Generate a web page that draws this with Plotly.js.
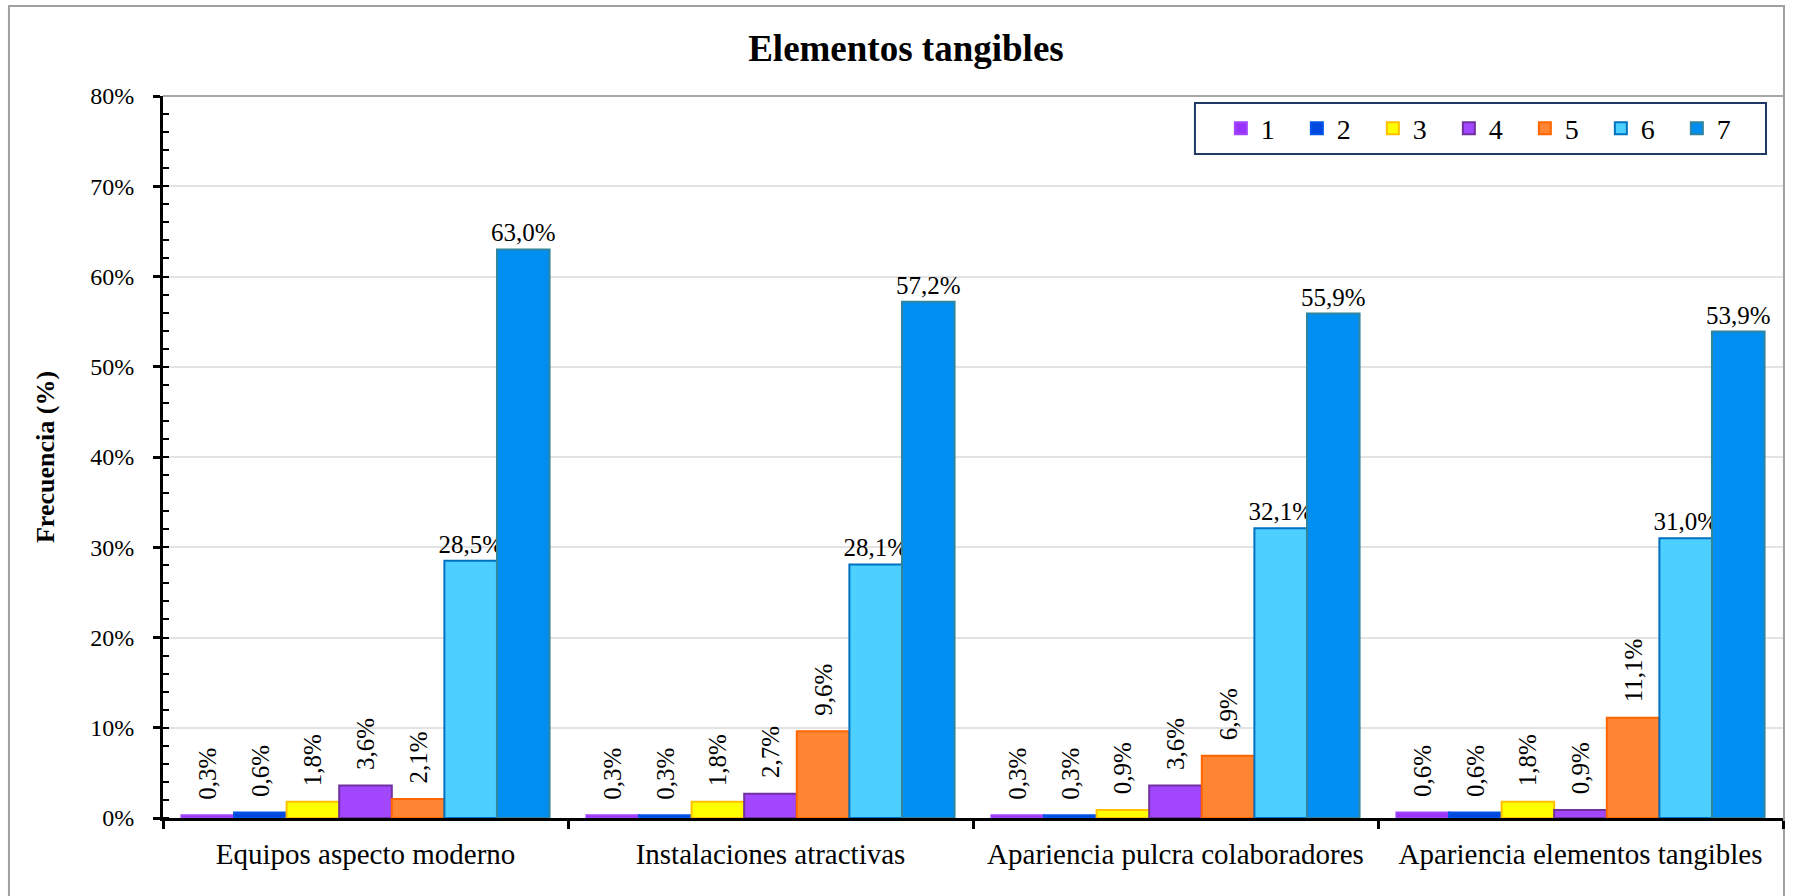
<!DOCTYPE html>
<html>
<head>
<meta charset="utf-8">
<script src="https://cdn.plot.ly/plotly-3.0.1.min.js"></script>
<style>html,body{margin:0;padding:0;background:#fff;}#chart{width:1800px;height:896px;}</style>
</head>
<body>
<div id="chart"></div>
<script>
const categories = ["Equipos aspecto moderno", "Instalaciones atractivas", "Apariencia pulcra colaboradores", "Apariencia elementos tangibles"];
const seriesNames = ["1", "2", "3", "4", "5", "6", "7"];
const s1 = [0.3, 0.3, 0.3, 0.6];
const s2 = [0.6, 0.3, 0.3, 0.6];
const s3 = [1.8, 1.8, 0.9, 1.8];
const s4 = [3.6, 2.7, 3.6, 0.9];
const s5 = [2.1, 9.6, 6.9, 11.1];
const s6 = [28.5, 28.1, 32.1, 31.0];
const s7 = [63.0, 57.2, 55.9, 53.9];
const seriesValues = [s1, s2, s3, s4, s5, s6, s7];
const fillColors = ["#9933FF", "#0047DF", "#FFFF00", "#A347FF", "#FF8533", "#4DCFFF", "#008EF2"];
const lineColors = ["#A347FF", "#0055E8", "#FFC000", "#7030A0", "#FF6600", "#0070C0", "#31859C"];
const labelAngles = [-90, -90, -90, -90, -90, 0, 0];

const FONT = "Liberation Serif";

const traces = seriesValues.map((vals, i) => ({
  type: "bar",
  name: seriesNames[i],
  x: categories,
  y: vals,
  marker: {color: fillColors[i], line: {color: lineColors[i], width: 2}},
  texttemplate: (labelAngles[i] !== 0 ? "\u00a0\u00a0" : "") + "%{y:.1f}%",
  textposition: "outside",
  textangle: labelAngles[i],
  constraintext: "none",
  cliponaxis: false,
  textfont: {family: FONT, size: 25, color: "#000"},
  hoverinfo: "skip"
}));

const layout = {
  width: 1800,
  height: 896,
  paper_bgcolor: "#fff",
  plot_bgcolor: "#fff",
  separators: ",.",
  font: {family: FONT, color: "#000"},
  margin: {l: 163, r: 17, t: 96, b: 78, autoexpand: false},
  barmode: "group",
  bargap: 0.091,
  bargroupgap: 0,
  title: {
    text: "Elementos tangibles",
    font: {family: FONT, size: 37, weight: "bold", color: "#000"},
    xref: "container", yref: "container",
    x: 0.5033, xanchor: "center",
    y: 0.9464, yanchor: "middle"
  },
  xaxis: {
    type: "category",
    tickson: "boundaries",
    ticks: "outside",
    ticklen: 8,
    tickwidth: 3,
    tickcolor: "#000",
    showline: true,
    linecolor: "#000",
    linewidth: 3,
    showgrid: false,
    zeroline: false,
    tickfont: {family: FONT, size: 29, color: "#000"},
    ticklabelstandoff: 8,
    fixedrange: true
  },
  yaxis: {
    range: [0, 80],
    dtick: 10,
    ticksuffix: "%",
    ticks: "outside",
    ticklen: 7,
    tickwidth: 3,
    tickcolor: "#000",
    minor: {dtick: 2, ticks: "inside", ticklen: 6, tickwidth: 2, tickcolor: "#000", showgrid: false},
    showline: true,
    linecolor: "#000",
    linewidth: 3,
    showgrid: true,
    gridcolor: "#E3E3E3",
    gridwidth: 2,
    zeroline: false,
    tickfont: {family: FONT, size: 24, color: "#000"},
    ticklabelstandoff: 14,
    title: {text: "Frecuencia (%)", font: {family: FONT, size: 26, weight: "bold", color: "#000"}, standoff: 29},
    fixedrange: true
  },
  legend: {
    orientation: "h",
    x: 0.653, xanchor: "left",
    y: 0.955, yanchor: "middle",
    bgcolor: "rgba(0,0,0,0)",
    borderwidth: 0,
    font: {family: FONT, size: 28, color: "#000"},
    entrywidth: 31,
    traceorder: "normal"
  },
  shapes: [
    {type: "line", xref: "paper", yref: "paper", x0: 0, x1: 1, y0: 1, y1: 1, line: {color: "#A6A6A6", width: 2}},
    {type: "rect", xref: "paper", yref: "paper", x0: 0.637, x1: 0.9895, y0: 0.9197, y1: 0.9903, fillcolor: "#fff", line: {color: "#1F3864", width: 2}, layer: "above"},
    {type: "rect", xref: "paper", yref: "paper", x0: -0.0951, x1: 1.0006, y0: -0.115, y1: 1.1247, line: {color: "#A0A0A0", width: 2}, layer: "below"}
  ],
  showlegend: true,
  hovermode: false
};

Plotly.newPlot("chart", traces, layout, {displayModeBar: false, staticPlot: true});
</script>
</body>
</html>
